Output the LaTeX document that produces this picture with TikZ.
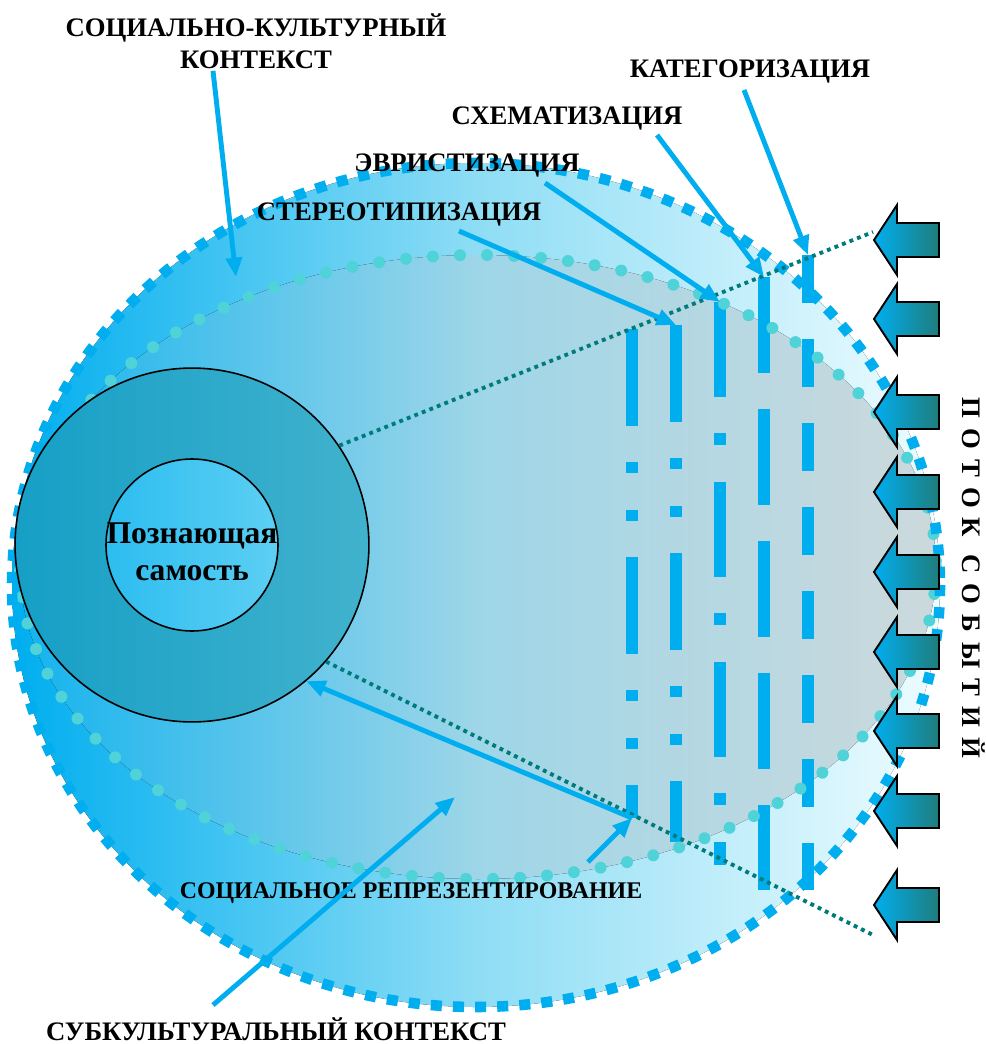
\documentclass[tikz,border=0pt]{standalone}
\usepackage{fontspec}
\setmainfont{Liberation Serif}
\usetikzlibrary{arrows.meta,calc,positioning}
\definecolor{skyA}{HTML}{00AEEF}
\definecolor{skyB}{HTML}{8EDDF5}
\definecolor{skyC}{HTML}{EEFCFF}
\definecolor{fogL}{HTML}{14B3EE}
\definecolor{fogM}{HTML}{9ED6E8}
\definecolor{fogR}{HTML}{CCD9DC}
\definecolor{tealD}{HTML}{007B7B}
\definecolor{turq}{HTML}{4FD3D8}
\definecolor{flowR}{HTML}{1F7D7C}
\definecolor{ringL}{HTML}{169FC6}
\definecolor{ringR}{HTML}{41B2CD}
\definecolor{selfL}{HTML}{2CBDF0}
\definecolor{selfR}{HTML}{5DCFF3}
\tikzset{
  lbl/.style={font=\bfseries\fontsize{15.2}{18.2}\selectfont, align=center, inner sep=0pt},
  ptr/.style={skyA, line width=2.8pt, -{Triangle[length=11pt,width=9pt]}},
  bar/.style={skyA, line width=6.8pt},
  guide/.style={tealD, line width=2.2pt, dash pattern=on 2.2pt off 2.4pt},
  flow/.style={draw=black, line width=1.1pt, left color=skyA, right color=flowR}
}
\begin{document}
\begin{tikzpicture}[x=0.02cm, y=-0.02cm]
\useasboundingbox (0,0) rectangle (986,1044);
% subcultural context
\fill[left color=skyA, right color=skyC, middle color=skyB] (476,585) ellipse [x radius=464, y radius=422];
% socio-cultural context
\fill[left color=fogL, right color=fogR, middle color=fogM] (478,567) ellipse [x radius=458, y radius=312];

% processing columns
\coordinate (c1 top) at (632,329);
\coordinate (c1 end) at (632,818);
\coordinate (c2 top) at (676,325);
\coordinate (c3 top) at (720,302);
\coordinate (c4 top) at (764,277);
\coordinate (c5 top) at (808,255);
\draw[bar, dash pattern=on 55.2pt off 20.5pt on 6.3pt off 21.1pt on 6.3pt off 20.5pt] (c1 top) -- (c1 end);
\draw[bar, dash pattern=on 55.2pt off 20.5pt on 6.3pt off 21.1pt on 6.3pt off 20.5pt] (c2 top) -- (676,842);
\draw[bar, dash pattern=on 54.1pt off 20.5pt on 6.8pt off 21.1pt] (c3 top) -- (720,865);
\draw[bar, dash pattern=on 54.6pt off 20.5pt] (c4 top) -- (764,890);
\draw[bar, dash pattern=on 27.3pt off 20.5pt] (c5 top) -- (808,890);

% borders of both contexts
\draw[turq, line width=6.8pt, line cap=round, dash pattern=on 0pt off 15.4pt] (478,567) ellipse [x radius=458, y radius=312];
\draw[skyA, line width=6pt, dash pattern=on 6.3pt off 6.3pt] (476,585) ellipse [x radius=464, y radius=422];

% knowing self
\node[circle, draw=black, line width=0.9pt, left color=ringL, right color=ringR, minimum size=201.4pt, inner sep=0pt] (ring) at (192,545) {};
\node[circle, draw=black, line width=0.9pt, left color=selfL, right color=selfR, minimum size=97.9pt, inner sep=0pt] (self) at (192,545) {};
\node[font=\bfseries\fontsize{18}{21}\selectfont, align=center, inner sep=0pt] (selftxt) at (192,552) {Познающая\\самость};

% view cone
\coordinate (up end) at (873,232);
\coordinate (low end) at (873,935);
\draw[guide] (ring.34) -- (up end);
\draw[guide] (ring.-41) -- (low end);

% event flow
\foreach \y in {240,319,412,492,572,652,731,811,905}
  \draw[flow] (874,\y) -- (897,\y-35) -- (897,\y-17) -- (939,\y-17) -- (939,\y+17) -- (897,\y+17) -- (897,\y+35) -- cycle;
\node[font=\bfseries\fontsize{15.2}{17}\selectfont\addfontfeature{LetterSpace=38}, rotate=-90, anchor=base, inner sep=0pt] (flowtxt) at (962,578) {ПОТОК СОБЫТИЙ};

% labels
\node[lbl] (sockult) at (256,41) {СОЦИАЛЬНО-КУЛЬТУРНЫЙ\\КОНТЕКСТ};
\node[lbl, anchor=base] (kateg) at (750,78) {КАТЕГОРИЗАЦИЯ};
\node[lbl, anchor=base] (schem) at (567,125) {СХЕМАТИЗАЦИЯ};
\node[lbl, anchor=base] (evr) at (467,172) {ЭВРИСТИЗАЦИЯ};
\node[lbl, anchor=base] (stereo) at (399,220) {СТЕРЕОТИПИЗАЦИЯ};
\node[lbl, anchor=base, font=\bfseries\fontsize{13.6}{16}\selectfont] (socrep) at (411,898) {СОЦИАЛЬНОЕ РЕПРЕЗЕНТИРОВАНИЕ};
\node[lbl, anchor=base] (subc) at (276,1040) {СУБКУЛЬТУРАЛЬНЫЙ КОНТЕКСТ};

% pointers
\coordinate (sc ctx) at (236,277);
\coordinate (sub ctx) at (455,797);
\draw[ptr] ($(sockult.south)+(-43,2)$) -- (sc ctx);
\draw[ptr] ($(kateg.base)+(-6,12)$) -- (c5 top);
\draw[ptr] ($(schem.base)+(90,10)$) -- (c4 top);
\draw[ptr] ($(evr.base)+(78,11)$) -- (c3 top);
\draw[ptr] ($(stereo.base)+(60,11)$) -- (c2 top);
\draw[ptr] ($(socrep.base)+(177,-36)$) -- (c1 end);
\draw[ptr] ($(subc.base)+(-63,-35)$) -- (sub ctx);
\draw[ptr, {Triangle[length=11pt,width=9pt]}-] (ring.-50) -- (c1 end);
\end{tikzpicture}
\end{document}
